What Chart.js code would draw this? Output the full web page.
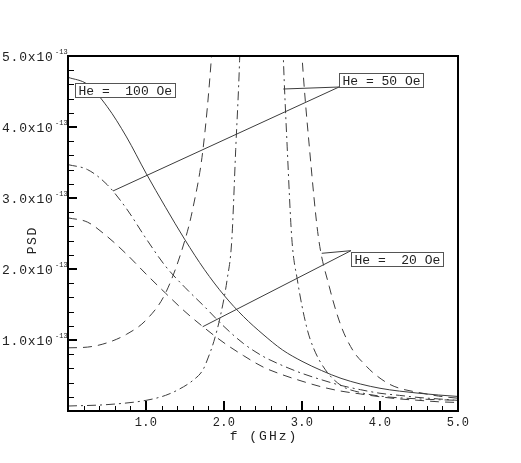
<!DOCTYPE html>
<html>
<head>
<meta charset="utf-8">
<script src="https://cdn.jsdelivr.net/npm/chart.js@4.4.0/dist/chart.umd.min.js"></script>
<style>
  body { margin: 0; background: #fff; }
  #wrap { width: 521px; height: 463px; }
</style>
</head>
<body>
<div id="wrap"><canvas id="psdChart" width="521" height="463"></canvas></div>
<script>
// values, PSD in units of 1e-13
var freq = [0, 0.25, 0.5, 0.75, 1.0, 1.25, 1.5, 1.75, 2.0, 2.25, 2.5, 2.75, 3.0, 3.25, 3.5, 3.75, 4.0, 4.25, 4.5, 4.75, 5.0];
var psd100 = [4.70, 4.60, 4.29, 3.86, 3.35, 2.87, 2.41, 1.99, 1.63, 1.33, 1.08, 0.86, 0.70, 0.57, 0.46, 0.38, 0.32, 0.28, 0.25, 0.225, 0.205];
var psd50 = [3.47, 3.40, 3.19, 2.85, 2.43, 2.04, 1.74, 1.47, 1.19, 0.95, 0.77, 0.64, 0.53, 0.44, 0.36, 0.30, 0.25, 0.22, 0.19, 0.17, 0.15];
var psd20 = [2.72, 2.66, 2.46, 2.21, 1.93, 1.66, 1.40, 1.17, 0.96, 0.78, 0.62, 0.51, 0.42, 0.34, 0.28, 0.24, 0.20, 0.17, 0.15, 0.13, 0.12];

// resonance branches (peak runs off the top of the plot)
var freqRes50 = [0, 0.5, 1.0, 1.25, 1.43, 1.6, 1.73, 1.8, 1.87, 1.95, 2.04, 2.1, 2.15, 2.2, 2.3, 2.48, 2.65, 2.76, 2.81, 2.87, 2.94, 3.06, 3.15, 3.3, 3.5, 3.75, 4.0, 4.5, 5.0];
var psdRes50 = [0.07, 0.09, 0.15, 0.22, 0.31, 0.43, 0.58, 0.76, 0.98, 1.32, 1.85, 2.41, 3.68, 4.94, 9, 20, 9, 5.0, 3.72, 2.42, 1.85, 1.18, 0.88, 0.58, 0.36, 0.26, 0.21, 0.17, 0.15];
var freqRes20 = [0, 0.25, 0.5, 0.75, 1.0, 1.25, 1.5, 1.6, 1.73, 1.84, 1.95, 2.2, 2.45, 2.7, 2.9, 3.0, 3.1, 3.21, 3.35, 3.5, 3.66, 3.8, 3.9, 4.1, 4.25, 4.5, 4.75, 5.0];
var psdRes20 = [0.89, 0.90, 0.96, 1.08, 1.28, 1.66, 2.41, 2.85, 3.68, 5.0, 7.0, 14, 25, 14, 7.0, 5.0, 3.65, 2.45, 1.75, 1.20, 0.84, 0.66, 0.55, 0.39, 0.32, 0.26, 0.21, 0.18];

var xTicks = [1, 2, 3, 4, 5];
var yTicks = [1, 2, 3, 4, 5];
var yExponent = '-13';

var notes = [
  { text: 'He =  100 Oe', box: [0.09, 4.62], lines: [] },
  { text: 'He = 50 Oe', box: [3.474, 4.756], lines: [[3.474, 4.563, 0.577, 3.099], [3.474, 4.563, 2.760, 4.535]] },
  { text: 'He =  20 Oe', box: [3.628, 2.244], lines: [[3.628, 2.258, 1.727, 1.187], [3.628, 2.258, 3.253, 2.221]] }
];

function pts(xs, ys) {
  return xs.map(function (x, i) { return { x: x, y: ys[i] }; });
}

var DASH = [9, 6];
var DASHDOT = [9, 4, 2, 4];
var FONT = '"Liberation Mono", "DejaVu Sans Mono", monospace';

function line(data, dash) {
  return {
    data: data,
    borderColor: '#3c3c3c',
    borderWidth: 1,
    borderDash: dash,
    pointRadius: 0,
    fill: false,
    cubicInterpolationMode: 'monotone'
  };
}

var decor = {
  id: 'decor',
  afterDatasetsDraw: function (chart) {
    var ctx = chart.ctx, a = chart.chartArea, xs = chart.scales.x, ys = chart.scales.y;
    ctx.save();

    // leader lines and label boxes
    ctx.strokeStyle = '#3c3c3c';
    ctx.lineWidth = 1;
    notes.forEach(function (n) {
      n.lines.forEach(function (l) {
        ctx.beginPath();
        ctx.moveTo(xs.getPixelForValue(l[0]), ys.getPixelForValue(l[1]));
        ctx.lineTo(xs.getPixelForValue(l[2]), ys.getPixelForValue(l[3]));
        ctx.stroke();
      });
    });
    ctx.font = '13px ' + FONT;
    notes.forEach(function (n) {
      var bx = Math.round(xs.getPixelForValue(n.box[0])) + 0.5;
      var by = Math.round(ys.getPixelForValue(n.box[1])) + 0.5;
      var w = Math.round(ctx.measureText(n.text).width) + 6;
      ctx.fillStyle = '#fff';
      ctx.fillRect(bx, by, w, 14);
      ctx.strokeStyle = '#555';
      ctx.strokeRect(bx, by, w, 14);
      ctx.fillStyle = '#222';
      ctx.textAlign = 'left';
      ctx.textBaseline = 'alphabetic';
      ctx.fillText(n.text, bx + 3, by + 11);
    });

    // frame
    ctx.strokeStyle = '#000';
    ctx.lineWidth = 2;
    ctx.strokeRect(a.left, a.top, a.right - a.left, a.bottom - a.top);

    // inward ticks, every 0.2 with majors every 1.0
    for (var i = 1; i < 25; i++) {
      var v = i * 0.2, major = i % 5 === 0;
      var px = Math.round(xs.getPixelForValue(v));
      var py = Math.round(ys.getPixelForValue(v));
      ctx.lineWidth = major ? 2 : 1;
      var off = major ? 0 : 0.5;
      ctx.beginPath();
      ctx.moveTo(px + off, a.bottom);
      ctx.lineTo(px + off, a.bottom - (major ? 10 : 5));
      ctx.moveTo(a.left, py + off);
      ctx.lineTo(a.left + (major ? 9 : 6), py + off);
      ctx.stroke();
    }

    // tick labels
    ctx.fillStyle = '#222';
    ctx.textBaseline = 'alphabetic';
    yTicks.forEach(function (t) {
      var y = ys.getPixelForValue(t);
      ctx.font = '13px ' + FONT;
      ctx.letterSpacing = '0.8px';
      ctx.textAlign = 'left';
      ctx.fillText(t.toFixed(1) + 'x10', 2, y + 5);
      ctx.font = '7px ' + FONT;
      ctx.letterSpacing = '0px';
      ctx.fillText(yExponent, 55, y - 2);
    });
    ctx.font = '12px ' + FONT;
    ctx.letterSpacing = '0.3px';
    ctx.textAlign = 'center';
    xTicks.forEach(function (t) {
      ctx.fillText(t.toFixed(1), xs.getPixelForValue(t), a.bottom + 15);
    });

    // axis titles
    ctx.font = '13px ' + FONT;
    ctx.letterSpacing = '2px';
    ctx.fillText('f (GHz)', (a.left + a.right) / 2 + 1, a.bottom + 29);
    ctx.translate(36, 241);
    ctx.rotate(-Math.PI / 2);
    ctx.letterSpacing = '1.5px';
    ctx.fillText('PSD', 0.75, 0);
    ctx.restore();
  }
};

new Chart(document.getElementById('psdChart'), {
  type: 'line',
  data: {
    datasets: [
      line(pts(freq, psd100), []),
      line(pts(freq, psd50), DASHDOT),
      line(pts(freq, psd20), DASH),
      line(pts(freqRes50, psdRes50), DASHDOT),
      line(pts(freqRes20, psdRes20), DASH)
    ]
  },
  options: {
    responsive: false,
    animation: false,
    events: [],
    layout: { padding: { left: 68, right: 63, top: 56, bottom: 52 } },
    plugins: { legend: { display: false }, tooltip: { enabled: false } },
    scales: {
      x: { type: 'linear', min: 0, max: 5, display: false },
      y: { min: 0, max: 5, display: false }
    }
  },
  plugins: [decor]
});
</script>
</body>
</html>
